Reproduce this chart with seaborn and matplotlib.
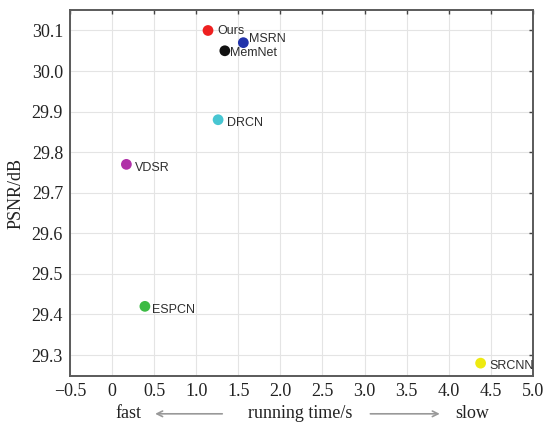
import matplotlib
matplotlib.use("Agg")
import matplotlib.pyplot as plt
import seaborn as sns
import pandas as pd

methods = ["Ours", "MSRN", "MemNet", "DRCN", "VDSR", "ESPCN", "SRCNN"]
run_time = [1.14, 1.56, 1.34, 1.26, 0.17, 0.39, 4.38]
psnr = [30.10, 30.07, 30.05, 29.88, 29.77, 29.42, 29.28]
colors = ["#ee2020", "#2233aa", "#111111", "#48c6d2", "#b030a8", "#3cbb44", "#eeea10"]
x_ticks = [-0.5, 0, 0.5, 1.0, 1.5, 2.0, 2.5, 3.0, 3.5, 4.0, 4.5, 5.0]
x_tick_labels = ["\u22120.5", "0", "0.5", "1.0", "1.5", "2.0", "2.5", "3.0", "3.5", "4.0", "4.5", "5.0"]
y_ticks = [29.3, 29.4, 29.5, 29.6, 29.7, 29.8, 29.9, 30.0, 30.1]
y_tick_labels = ["29.3", "29.4", "29.5", "29.6", "29.7", "29.8", "29.9", "30.0", "30.1"]
label_offsets = {"Ours": (6.5, -0.7), "MSRN": (4, 2.4), "MemNet": (4, -1.6), "DRCN": (6.5, -2),
                 "VDSR": (6.5, -2.5), "ESPCN": (5.3, -2.5), "SRCNN": (6.5, -2)}

sns.set_style("white")
plt.rcParams["font.family"] = ["Liberation Serif", "DejaVu Serif"]

df = pd.DataFrame({"method": methods, "time": run_time, "psnr": psnr})

fig = plt.figure(figsize=(5.47, 4.25), dpi=100)
ax = fig.add_axes([0.128, 0.115, 0.846, 0.861])

sns.scatterplot(data=df, x="time", y="psnr", hue="method",
                palette=dict(zip(methods, colors)), s=60, edgecolor="none",
                legend=False, ax=ax, zorder=3)

for m, xv, yv in zip(methods, run_time, psnr):
    ax.annotate(m, (xv, yv), xytext=label_offsets[m], textcoords="offset points",
                ha="left", va="center", fontsize=9, color="#2e2e2e",
                family=["Liberation Sans", "DejaVu Sans"], zorder=4)

ax.set_xlim(-0.5, 5.0)
ax.set_ylim(29.248, 30.15)
ax.set_xticks(x_ticks)
ax.set_xticklabels(x_tick_labels)
ax.set_yticks(y_ticks)
ax.set_yticklabels(y_tick_labels)
ax.tick_params(direction="in", length=3, width=1, color="#444444",
               labelsize=13, top=True, right=True, pad=5, labelcolor="#222222")
ax.grid(True, color="#e4e4e4", linewidth=0.8)
ax.set_axisbelow(True)
for sp in ax.spines.values():
    sp.set_color("#5a5a5a")
    sp.set_linewidth(1.4)

ax.set_xlabel("")
ax.set_ylabel("PSNR/dB", fontsize=13, color="#222222", labelpad=5)

# x label composed: fast <---- running time/s ----> slow
ylab = -0.103
ax.text(0.127, ylab, "fast", transform=ax.transAxes, ha="center", va="center",
        fontsize=13, color="#222222")
ax.text(0.497, ylab, "running time/s", transform=ax.transAxes, ha="center", va="center",
        fontsize=13, color="#222222")
ax.text(0.870, ylab, "slow", transform=ax.transAxes, ha="center", va="center",
        fontsize=13, color="#222222")
ax.annotate("", xy=(0.178, ylab), xytext=(0.335, ylab), xycoords="axes fraction",
            arrowprops=dict(arrowstyle="->", color="#999999", lw=1.2))
ax.annotate("", xy=(0.805, ylab), xytext=(0.643, ylab), xycoords="axes fraction",
            arrowprops=dict(arrowstyle="->", color="#999999", lw=1.2))

fig.savefig("out.png", dpi=100)
